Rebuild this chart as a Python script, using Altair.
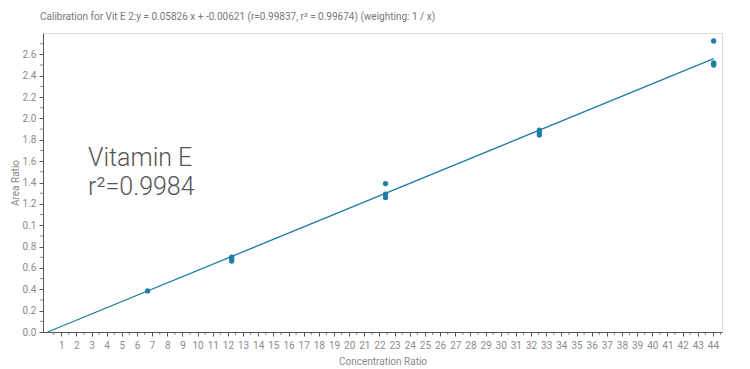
import altair as alt
import pandas as pd

# Data
conc = [6.7, 12.25, 12.25, 12.25, 22.4, 22.4, 22.4, 32.55, 32.55, 32.55, 44.05, 44.05, 44.05, 44.05]
area = [0.385, 0.665, 0.685, 0.700, 1.390, 1.290, 1.260, 1.845, 1.865, 1.890, 2.725, 2.520, 2.500, 2.510]

slope = 0.05826
intercept = -0.00621
line_x = [0.107, 44.05]

x_ticks = list(range(1, 45))
x_minor = [i + 0.5 for i in range(0, 45)]
y_ticks = [round(0.2 * i, 1) for i in range(0, 14)]
y_minor = [round(0.1 + 0.2 * i, 1) for i in range(0, 14)]

title_text = "Calibration for Vit E 2:y = 0.05826 x + -0.00621 (r=0.99837, r\u00b2 = 0.99674) (weighting: 1 / x)"

FONT = "Roboto"
TEAL = "#1f7ea6"
AX = "#555555"
LBL = "#8a8a8a"

pts = pd.DataFrame({"x": conc, "y": area})
ln = pd.DataFrame({"x": line_x})
xm = pd.DataFrame({"x": x_minor})
ym = pd.DataFrame({"y": y_minor})

xscale = alt.Scale(domain=[-0.2, 44.6], nice=False, zero=False)
yscale = alt.Scale(domain=[0, 2.8], nice=False)

xaxis = alt.Axis(values=x_ticks, title="Concentration Ratio", grid=False,
                 domainColor=AX, tickColor=AX, tickSize=4, labelColor=LBL,
                 labelFont=FONT, labelFontSize=10, titleFont=FONT, titleFontSize=10,
                 titleFontWeight="normal", titleColor=LBL, labelPadding=4, titlePadding=6,
                 labelOverlap=False, labelFlush=False, labelBound=False)
yaxis = alt.Axis(values=y_ticks, title="Area Ratio", grid=False,
                 domainColor=AX, tickColor=AX, tickSize=4, labelColor=LBL,
                 labelFont=FONT, labelFontSize=10, titleFont=FONT, titleFontSize=10,
                 titleFontWeight="normal", titleColor=LBL, labelPadding=3, titlePadding=2,
                 labelOverlap=False, labelFlush=False, labelBound=False,
                 labelExpr="datum.value == 1 ? '0.1' : format(datum.value, '.1f')")

points = alt.Chart(pts).mark_circle(size=28, color=TEAL, opacity=1).encode(
    x=alt.X("x:Q", scale=xscale, axis=xaxis),
    y=alt.Y("y:Q", scale=yscale, axis=yaxis),
)

fit = alt.Chart(ln).transform_calculate(
    y=f"{slope} * datum.x + ({intercept})"
).mark_line(color=TEAL, strokeWidth=1.3).encode(
    x=alt.X("x:Q", scale=xscale, axis=xaxis),
    y=alt.Y("y:Q", scale=yscale, axis=yaxis),
)

xminor = alt.Chart(xm).mark_tick(orient="vertical", size=3, thickness=1, color=AX, yOffset=1.5).encode(
    x=alt.X("x:Q", scale=xscale, axis=xaxis),
    y=alt.datum(0, scale=yscale, axis=yaxis),
)

yminor = alt.Chart(ym).mark_tick(orient="horizontal", size=3, thickness=1, color=AX, xOffset=-1.5).encode(
    y=alt.Y("y:Q", scale=yscale, axis=yaxis),
    x=alt.datum(-0.2, scale=xscale, axis=xaxis),
)

ann1 = alt.Chart(pd.DataFrame({"t": ["Vitamin E"]})).mark_text(
    align="left", baseline="middle", font=FONT, fontSize=25, fontWeight=300, color="#555555"
).encode(x=alt.value(45), y=alt.value(125), text="t:N")

ann2 = alt.Chart(pd.DataFrame({"t": ["r\u00b2=0.9984"]})).mark_text(
    align="left", baseline="middle", font=FONT, fontSize=25, fontWeight=300, color="#555555"
).encode(x=alt.value(45), y=alt.value(154), text="t:N")

chart = alt.layer(points, fit, xminor, yminor, ann1, ann2).properties(
    width=679, height=299,
    autosize=alt.AutoSizeParams(type="none"),
    padding={"left": 43, "top": 33, "right": 28, "bottom": 37},
    title=alt.Title(title_text, anchor="start", frame="group", font=FONT, fontSize=10,
                    fontWeight="normal", color="#777777", offset=11, dx=-3),
).configure_view(stroke=None).configure(background="white").configure_axis(
    labelOverlap=False
)

chart.save("out.html", embed_options={"renderer": "svg", "actions": False})
